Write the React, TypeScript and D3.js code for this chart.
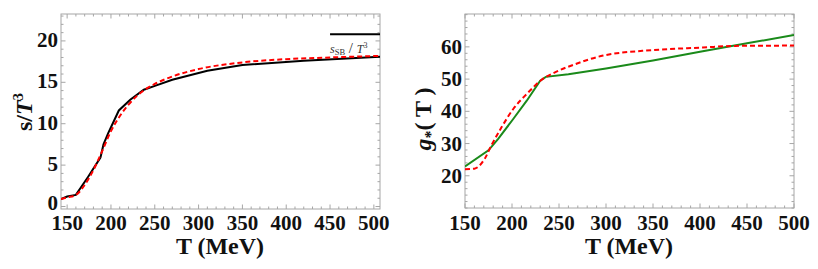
import React from 'react'
import * as d3 from 'd3'

// left panel: entropy density s/T^3
const lattT = [143, 150, 160, 174, 188, 191.5, 197, 209, 222, 237.5, 251, 270, 310, 350, 420, 507]
const lattS = [0.9, 1.2, 1.4, 3.6, 5.9, 7.5, 8.9, 11.6, 12.9, 14.1, 14.6, 15.3, 16.4, 17.1, 17.6, 18.1]
const fitT = [143, 150, 160, 170, 180, 190, 200, 210, 220, 230, 240, 250, 270, 300, 350, 400, 450, 507]
const fitS = [0.9, 1.1, 1.4, 2.6, 4.4, 6.7, 9.1, 10.9, 12.3, 13.4, 14.2, 14.8, 15.7, 16.6, 17.4, 17.8, 18.0, 18.2]
const sbT = [450, 507]
const sbS = [20.8, 20.8]

// right panel: g*(T)
const gT = [150, 175, 185.5, 201.5, 215.7, 230, 236, 260, 300, 350, 400, 450, 500]
const gVal = [22.9, 27.9, 31.5, 37.7, 43.3, 49.5, 50.7, 51.5, 53.3, 55.8, 58.5, 61.1, 63.7]
const gFitT = [150, 160, 171, 178, 189, 201.5, 215.7, 231.6, 245.7, 266, 297, 350, 403, 438, 500]
const gFit = [22.0, 22.2, 25.3, 29.4, 35.1, 40.8, 45.4, 49.8, 52.1, 54.5, 57.3, 59.0, 59.8, 60.3, 60.4]

const xTicks = [150, 200, 250, 300, 350, 400, 450, 500]
const leftYTicks = [0, 5, 10, 15, 20]
const rightYTicks = [20, 30, 40, 50, 60]

const FONT = 'Liberation Serif'
const FRAME = '#a6a6a6'

type Sc = d3.ScaleLinear<number, number>

function Frame({ x, y, xMinor, yMinor, xMajor, yMajor }:
  { x: Sc; y: Sc; xMinor: number[]; yMinor: number[]; xMajor: number[]; yMajor: number[] }) {
  const [x0, x1] = x.range()
  const [y0, y1] = y.range()
  const out: JSX.Element[] = []
  xMinor.forEach((v, i) => {
    const L = xMajor.includes(v) ? 4.5 : 2.5
    const px = x(v)
    out.push(<line key={'xb' + i} x1={px} x2={px} y1={y0} y2={y0 - L} />)
    out.push(<line key={'xt' + i} x1={px} x2={px} y1={y1} y2={y1 + L} />)
  })
  yMinor.forEach((v, i) => {
    const L = yMajor.includes(v) ? 4.5 : 2.5
    const py = y(v)
    out.push(<line key={'yl' + i} x1={x0} x2={x0 + L} y1={py} y2={py} />)
    out.push(<line key={'yr' + i} x1={x1} x2={x1 - L} y1={py} y2={py} />)
  })
  return (
    <g stroke={FRAME} strokeWidth={1} fill="none">
      <rect x={x0} y={y1} width={x1 - x0} height={y0 - y1} />
      {out}
    </g>
  )
}

function pathOf(xs: number[], ys: number[], x: Sc, y: Sc, curve: d3.CurveFactory) {
  const pts = xs.map((t, i) => [t, ys[i]] as [number, number])
  return d3.line<[number, number]>().x(d => x(d[0])).y(d => y(d[1])).curve(curve)(pts) || ''
}

export default function App() {
  // left
  const xL = d3.scaleLinear().domain([143, 507]).range([61, 380])
  const yL = d3.scaleLinear().domain([-0.3, 23.25]).range([209, 14])
  // right
  const xR = d3.scaleLinear().domain([150, 500]).range([465, 794])
  const yR = d3.scaleLinear().domain([10, 70.2]).range([208, 14])

  const xMinorL = d3.range(150, 501, 10)
  const yMinorL = d3.range(0, 24, 1)
  const xMinorR = d3.range(150, 501, 10)
  const yMinorR = d3.range(10, 71, 2)

  const tick = { fontFamily: FONT, fontWeight: 700, fontSize: 21, fill: '#111' } as const
  const big = { ...tick, fontSize: 24 }

  return (
    <svg width={818} height={269} fontFamily={FONT} style={{ position: 'absolute', left: 0, top: 0, background: '#fff' }}>
      {/* ---- left panel ---- */}
      <Frame x={xL} y={yL} xMinor={xMinorL} yMinor={yMinorL} xMajor={xTicks} yMajor={leftYTicks} />
      <defs>
        <clipPath id="clipL"><rect x={61} y={14} width={319} height={195} /></clipPath>
        <clipPath id="clipR"><rect x={465} y={14} width={329} height={194} /></clipPath>
      </defs>
      <g clipPath="url(#clipL)" fill="none">
        <path d={pathOf(sbT, sbS, xL, yL, d3.curveLinear)} stroke="#000" strokeWidth={2} />
        <path d={pathOf(lattT, lattS, xL, yL, d3.curveLinear)} stroke="#000" strokeWidth={2} />
        <path d={pathOf(fitT, fitS, xL, yL, d3.curveMonotoneX)} stroke="#f00" strokeWidth={2} strokeDasharray="5,3" />
      </g>
      <text x={xL(450)} y={yL(18.6)} fontFamily={FONT} fontSize={12} fill="#333">
        <tspan fontStyle="italic">s</tspan>
        <tspan fontSize={8.5} dy={2}>SB</tspan>
        <tspan dy={-2} fontSize={15}> / </tspan>
        <tspan fontStyle="italic">T</tspan>
        <tspan fontSize={8} dy={-5}>3</tspan>
      </text>
      {xTicks.map(t => (
        <text key={'lx' + t} x={xL(t)} y={230} textAnchor="middle" {...tick}>{t}</text>
      ))}
      {leftYTicks.map(t => (
        <text key={'ly' + t} x={58} y={yL(t) + (t === 0 ? 3 : 6)} textAnchor="end" {...tick}>{t}</text>
      ))}
      <text x={220} y={254} textAnchor="middle" {...big}>T (MeV)</text>
      <text transform="translate(32,112) rotate(-90)" textAnchor="middle" {...big}>
        <tspan>s/</tspan>
        <tspan fontStyle="italic">T</tspan>
        <tspan fontSize={15} dy={-9}>3</tspan>
      </text>

      {/* ---- right panel ---- */}
      <Frame x={xR} y={yR} xMinor={xMinorR} yMinor={yMinorR} xMajor={xTicks} yMajor={rightYTicks} />
      <g clipPath="url(#clipR)" fill="none">
        <path d={pathOf(gT, gVal, xR, yR, d3.curveLinear)} stroke="#1a8a1a" strokeWidth={2} />
        <path d={pathOf(gFitT, gFit, xR, yR, d3.curveMonotoneX)} stroke="#f00" strokeWidth={2} strokeDasharray="5,3" />
      </g>
      {xTicks.map(t => (
        <text key={'rx' + t} x={xR(t)} y={230} textAnchor="middle" {...tick}>{t}</text>
      ))}
      {rightYTicks.map(t => (
        <text key={'ry' + t} x={462} y={yR(t) + 7} textAnchor="end" {...tick}>{t}</text>
      ))}
      <text x={629} y={254} textAnchor="middle" {...big}>T (MeV)</text>
      <text transform="translate(431,119) rotate(-90)" textAnchor="middle" {...big}>
        <tspan fontStyle="italic">g</tspan>
        <tspan fontSize={16} dy={5}>*</tspan>
        <tspan dy={-5}>( T )</tspan>
      </text>
    </svg>
  )
}
